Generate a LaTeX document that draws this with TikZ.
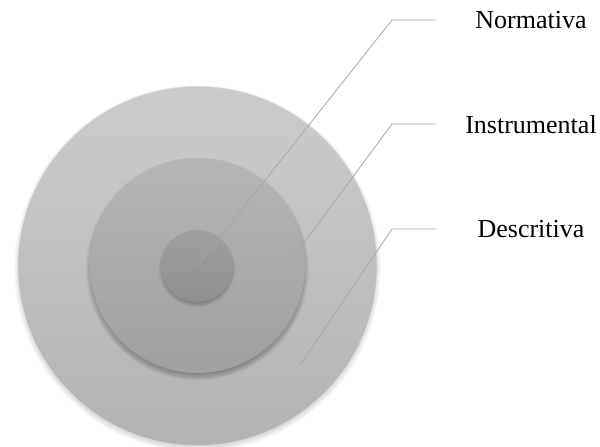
\documentclass[tikz,border=0pt]{standalone}
\usepackage{fontspec}
\setmainfont{Liberation Serif}
\begin{document}
\begin{tikzpicture}[x=1pt,y=-1pt,
  leader/.style={draw=black!35, line width=0.8pt},
  lbl/.style={font=\fontsize{26}{30}\selectfont, anchor=base, inner sep=0pt},
  disc/.style={circle, inner sep=0pt, minimum size=#1},
]
\useasboundingbox (0,0) rectangle (600,447);
% outer disc shadow
\foreach \i in {1,...,10}{
  \fill[black, opacity=0.02] (197.5,268.5) circle[radius=175.5+\i*0.8];
}
\node[disc=359pt, top color=black!20, bottom color=black!30, draw=black!14, line width=0.5pt] (outer) at (197.5,266) {};
% middle disc shadow
\foreach \i in {1,...,10}{
  \fill[black, opacity=0.03] (197.5,269) circle[radius=103.5+\i*0.8];
}
\node[disc=215pt, top color=black!29, bottom color=black!37] (middle) at (197.5,265.5) {};
% inner disc shadow
\foreach \i in {1,...,8}{
  \fill[black, opacity=0.035] (197,269) circle[radius=32+\i*0.8];
}
\node[disc=72pt, top color=black!37, bottom color=black!44] (inner) at (197,266) {};
% leader anchors
\coordinate (pN) at (198,265);
\coordinate (eN) at (392,20);
\coordinate (hN) at (436,20);
\coordinate (pI) at (258,305);
\coordinate (eI) at (392,124);
\coordinate (hI) at (436,124);
\coordinate (pD) at (300,365);
\coordinate (eD) at (392,229);
\coordinate (hD) at (436,229);
\draw[leader] (pN) -- (eN) -- (hN);
\draw[leader] (pI) -- (eI) -- (hI);
\draw[leader] (pD) -- (eD) -- (hD);
\node[lbl] (tN) at (531,28) {Normativa};
\node[lbl] (tI) at (531,133) {Instrumental};
\node[lbl] (tD) at (531,237) {Descritiva};
\end{tikzpicture}
\end{document}
